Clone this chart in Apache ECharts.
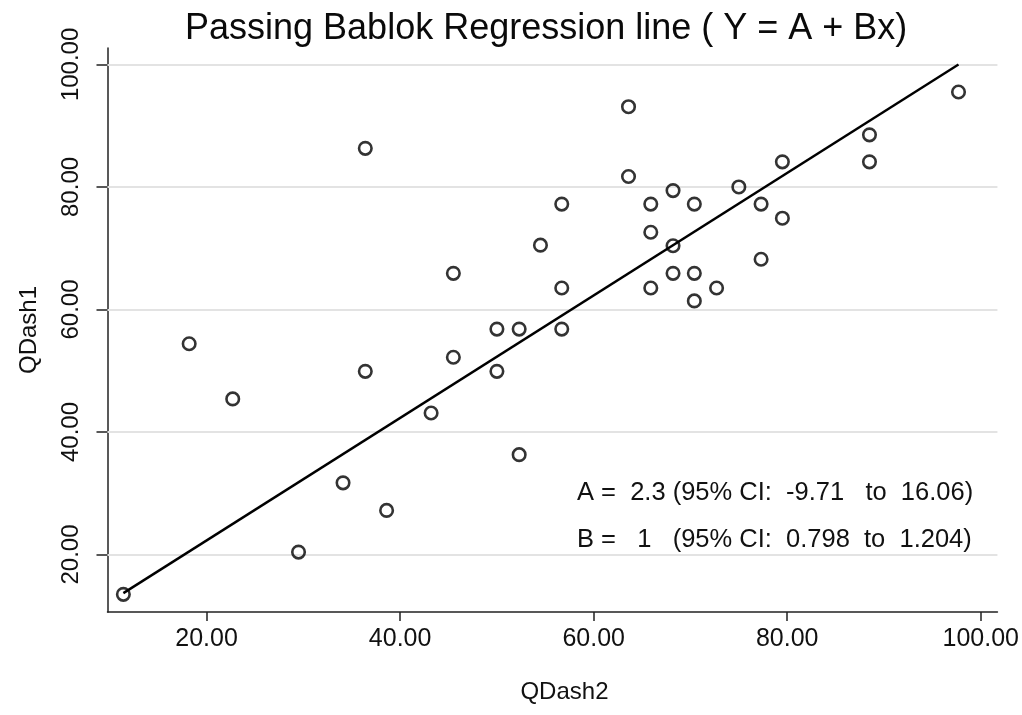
<!DOCTYPE html>
<html lang="en">
<head>
    <meta charset="UTF-8">
    <title>Passing Bablok Regression</title>
    <style>
        html, body { margin: 0; padding: 0; background: #fff; }
        #main { width: 1022px; height: 715px; }
    </style>
</head>
<body>
<div id="main"></div>

<script src="https://cdn.jsdelivr.net/npm/echarts@6/dist/echarts.min.js"></script>
<script>
    // QDash2 (x) and QDash1 (y) for each subject
    var qdash2 = [11.4, 18.2, 22.7, 29.5, 34.1, 36.4, 36.4, 38.6, 43.2, 45.5,
        45.5, 50.0, 50.0, 52.3, 52.3, 54.5, 56.7, 56.7, 56.7, 63.6,
        63.6, 65.9, 65.9, 65.9, 68.2, 68.2, 68.2, 70.4, 70.4, 70.4,
        72.7, 75.0, 77.3, 77.3, 79.5, 79.5, 88.5, 88.5, 97.7];
    var qdash1 = [13.5, 54.4, 45.4, 20.4, 31.7, 86.3, 49.9, 27.2, 43.1, 65.9,
        52.2, 56.8, 49.9, 56.8, 36.3, 70.5, 77.2, 63.5, 56.8, 93.1,
        81.7, 77.2, 72.6, 63.5, 79.4, 70.4, 65.9, 77.2, 65.9, 61.4,
        63.5, 80.0, 77.2, 68.2, 84.1, 74.9, 88.5, 84.1, 95.5];

    // regression line end points
    var lineX = [11.4, 97.7];
    var lineY = [13.7, 100.0];

    var xTicks = [20, 40, 60, 80, 100];
    var yTicks = [20, 40, 60, 80, 100];

    var statA = 'A =  2.3 (95% CI:  -9.71   to  16.06)';
    var statB = 'B =   1   (95% CI:  0.798  to  1.204)';

    var points = qdash2.map(function (x, i) { return [x, qdash1[i]]; });
    var linePts = lineX.map(function (x, i) { return [x, lineY[i]]; });

    var font = 'Liberation Sans, Arial, sans-serif';
    var chart = echarts.init(document.getElementById('main'));

    var option = {
        animation: false,
        backgroundColor: '#fff',
        title: {
            text: 'Passing Bablok Regression line ( Y = A + Bx)',
            left: 180,
            top: 6,
            textStyle: {
                fontFamily: font,
                fontSize: 36,
                fontWeight: 'normal',
                color: '#0a0a0a'
            }
        },
        grid: { left: 107.5, right: 24, top: 48, bottom: 103 },
        xAxis: {
            type: 'value',
            min: 9.76,
            max: 101.72,
            name: 'QDash2',
            nameLocation: 'middle',
            nameGap: 68,
            nameTextStyle: { fontFamily: font, fontSize: 24, color: '#111', padding: [0, 0, 0, 24] },
            axisLine: { lineStyle: { color: '#222', width: 1.5 } },
            axisTick: { customValues: xTicks, length: 9, lineStyle: { color: '#222', width: 1.5 } },
            axisLabel: {
                customValues: xTicks,
                margin: 15,
                fontFamily: font,
                fontSize: 25,
                color: '#111',
                formatter: function (v) { return v.toFixed(2); }
            },
            splitLine: { show: false }
        },
        yAxis: {
            type: 'value',
            min: 10.62,
            max: 102.68,
            name: 'QDash1',
            nameLocation: 'middle',
            nameGap: 66,
            nameTextStyle: { fontFamily: font, fontSize: 24, color: '#111' },
            axisLine: { lineStyle: { color: '#222', width: 1.5 } },
            axisTick: { customValues: yTicks, length: 11, lineStyle: { color: '#222', width: 1.5 } },
            axisLabel: {
                customValues: yTicks,
                rotate: 90,
                margin: 24,
                fontFamily: font,
                fontSize: 24,
                color: '#111',
                formatter: function (v) { return v.toFixed(2); }
            },
            splitLine: { show: false }
        },
        series: [
            {
                type: 'line',
                data: linePts,
                showSymbol: false,
                lineStyle: { color: '#000', width: 2.4 },
                silent: true,
                z: 3,
                markLine: {
                    silent: true,
                    symbol: 'none',
                    label: { show: false },
                    lineStyle: { color: '#e3e3e3', width: 2, type: 'solid' },
                    data: yTicks.map(function (v) { return { yAxis: v }; }),
                    z: 1
                }
            },
            {
                type: 'scatter',
                data: points,
                symbol: 'circle',
                symbolSize: 12.5,
                itemStyle: { color: 'rgba(0,0,0,0)', borderColor: '#000', borderWidth: 2.6 },
                z: 4
            }
        ],
        graphic: [
            {
                type: 'text',
                left: 577,
                top: 480,
                style: { text: statA, fontFamily: font, fontSize: 25.5, fill: '#111' }
            },
            {
                type: 'text',
                left: 577,
                top: 527,
                style: { text: statB, fontFamily: font, fontSize: 25.5, fill: '#111' }
            }
        ]
    };

    chart.setOption(option);
</script>
</body>
</html>
